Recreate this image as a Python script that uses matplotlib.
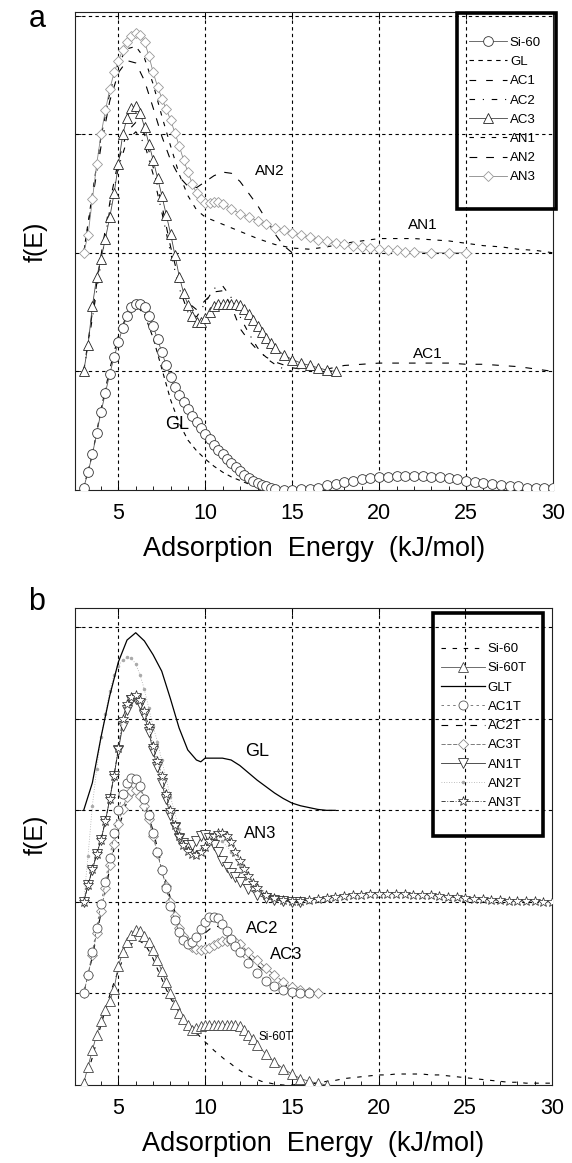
import matplotlib
matplotlib.use("Agg")
import matplotlib.pyplot as plt
from matplotlib.ticker import MultipleLocator
from matplotlib.patches import Rectangle

plt.rcParams['font.family'] = ['Liberation Sans', 'DejaVu Sans']

# ---------------- Panel a data ----------------
si60_x = [3.0, 3.25, 3.5, 3.75, 4.0, 4.25, 4.5, 4.75, 5.0, 5.25, 5.5, 5.75, 6.0, 6.25, 6.5, 6.75,
          7.0, 7.25, 7.5, 7.75, 8.0, 8.25, 8.5, 8.75, 9.0, 9.25, 9.5, 9.75, 10.0, 10.25, 10.5, 10.75,
          11.0, 11.25, 11.5, 11.75, 12.0, 12.25, 12.5, 12.75, 13.0, 13.25, 13.5, 13.75, 14.0, 14.5,
          15.0, 15.5, 16.0, 16.5, 17.0, 17.5, 18.0, 18.5, 19.0, 19.5, 20.0, 20.5, 21.0, 21.5, 22.0,
          22.5, 23.0, 23.5, 24.0, 24.5, 25.0, 25.5, 26.0, 26.5, 27.0, 27.5, 28.0, 28.5, 29.0, 29.5, 30.0]
si60_y = [0.02, 0.15, 0.30, 0.48, 0.66, 0.82, 0.98, 1.12, 1.25, 1.37, 1.47, 1.54, 1.57, 1.57, 1.54, 1.47,
          1.38, 1.27, 1.16, 1.05, 0.95, 0.87, 0.80, 0.74, 0.68, 0.62, 0.57, 0.52, 0.47, 0.43, 0.38, 0.34,
          0.30, 0.26, 0.23, 0.19, 0.16, 0.13, 0.10, 0.08, 0.06, 0.04, 0.03, 0.02, 0.01, 0.00,
          0.00, 0.01, 0.01, 0.02, 0.04, 0.05, 0.07, 0.08, 0.09, 0.10, 0.11, 0.11, 0.12, 0.12, 0.12,
          0.12, 0.11, 0.11, 0.10, 0.09, 0.08, 0.07, 0.06, 0.05, 0.04, 0.03, 0.03, 0.02, 0.02, 0.02, 0.02]

gl_x = [3.0, 3.5, 4.0, 4.5, 5.0, 5.5, 6.0, 6.5, 7.0, 7.5, 8.0, 8.5, 9.0, 9.5, 10.0, 10.5, 11.0,
        11.5, 12.0, 12.5, 13.0, 13.5, 14.0]
gl_y = [0.02, 0.30, 0.68, 1.02, 1.30, 1.48, 1.56, 1.48, 1.28, 1.02, 0.76, 0.56, 0.42, 0.33, 0.26,
        0.20, 0.15, 0.11, 0.08, 0.05, 0.03, 0.01, 0.00]

ac1_x = [3.0, 3.5, 4.0, 4.5, 5.0, 5.5, 6.0, 6.5, 7.0, 7.5, 8.0, 8.5, 9.0, 9.5, 10.0, 10.5, 11.0,
         11.5, 12.0, 12.5, 13.0, 13.5, 14.0, 15.0, 16.0, 17.0, 18.0, 19.0, 20.0, 21.0, 22.0, 23.0,
         24.0, 25.0, 26.0, 27.0, 28.0, 29.0, 30.0]
ac1_y = [1.00, 1.50, 1.98, 2.42, 2.78, 3.02, 3.10, 3.00, 2.72, 2.40, 2.05, 1.76, 1.58, 1.52, 1.60,
         1.67, 1.68, 1.55, 1.36, 1.26, 1.18, 1.12, 1.08, 1.03, 1.01, 1.02, 1.05, 1.06, 1.07, 1.07, 1.07,
         1.07, 1.07, 1.06, 1.06, 1.05, 1.04, 1.02, 1.00]

ac2_x = [3.0, 3.5, 4.0, 4.5, 5.0, 5.5, 6.0, 6.5, 7.0, 7.5, 8.0, 8.5, 9.0, 9.5, 10.0, 10.5, 11.0,
         11.5, 12.0, 12.5, 13.0, 13.5, 14.0, 14.5, 15.0]
ac2_y = [1.00, 1.45, 1.92, 2.36, 2.72, 2.95, 3.02, 2.92, 2.66, 2.34, 2.00, 1.70, 1.50, 1.46, 1.58,
         1.70, 1.72, 1.62, 1.46, 1.32, 1.20, 1.11, 1.06, 1.02, 1.00]

ac3_x = [3.0, 3.25, 3.5, 3.75, 4.0, 4.25, 4.5, 4.75, 5.0, 5.25, 5.5, 5.75, 6.0, 6.25, 6.5, 6.75,
         7.0, 7.25, 7.5, 7.75, 8.0, 8.25, 8.5, 8.75, 9.0, 9.25, 9.5, 9.75, 10.0, 10.25, 10.5, 10.75,
         11.0, 11.25, 11.5, 11.75, 12.0, 12.25, 12.5, 12.75, 13.0, 13.25, 13.5, 13.75, 14.0, 14.5,
         15.0, 15.5, 16.0, 16.5, 17.0, 17.5]
ac3_y = [1.00, 1.22, 1.55, 1.80, 1.95, 2.12, 2.30, 2.50, 2.75, 3.00, 3.14, 3.22, 3.24, 3.18, 3.06, 2.92,
         2.78, 2.63, 2.48, 2.32, 2.16, 1.98, 1.80, 1.66, 1.56, 1.47, 1.42, 1.42, 1.45, 1.50, 1.55, 1.57,
         1.57, 1.57, 1.57, 1.57, 1.56, 1.53, 1.48, 1.43, 1.38, 1.33, 1.28, 1.24, 1.20, 1.14,
         1.10, 1.07, 1.05, 1.03, 1.01, 1.00]

an1_x = [3.0, 3.5, 4.0, 4.5, 5.0, 5.5, 6.0, 6.5, 7.0, 7.5, 8.0, 8.5, 9.0, 9.5, 10.0, 10.5, 11.0,
         11.5, 12.0, 13.0, 14.0, 15.0, 16.0, 17.0, 18.0, 19.0, 20.0, 21.0, 22.0, 23.0, 24.0, 25.0,
         26.0, 27.0, 28.0, 29.0, 30.0]
an1_y = [2.00, 2.50, 2.98, 3.35, 3.60, 3.72, 3.74, 3.64, 3.42, 3.15, 2.90, 2.66, 2.48, 2.36, 2.30,
         2.27, 2.24, 2.21, 2.18, 2.12, 2.07, 2.04, 2.03, 2.05, 2.08, 2.10, 2.12, 2.12, 2.12, 2.11, 2.10,
         2.08, 2.06, 2.05, 2.03, 2.02, 2.00]

an2_x = [3.0, 3.5, 4.0, 4.5, 5.0, 5.5, 6.0, 6.5, 7.0, 7.5, 8.0, 8.5, 9.0, 9.5, 10.0, 10.5, 11.0,
         11.5, 12.0, 12.5, 13.0, 13.5, 14.0, 14.5, 15.0]
an2_y = [2.00, 2.45, 2.90, 3.28, 3.52, 3.62, 3.60, 3.45, 3.22, 2.98, 2.78, 2.64, 2.56, 2.55, 2.60,
         2.65, 2.68, 2.67, 2.60, 2.50, 2.40, 2.28, 2.16, 2.06, 2.00]

an3_x = [3.0, 3.25, 3.5, 3.75, 4.0, 4.25, 4.5, 4.75, 5.0, 5.25, 5.5, 5.75, 6.0, 6.25, 6.5, 6.75,
         7.0, 7.25, 7.5, 7.75, 8.0, 8.25, 8.5, 8.75, 9.0, 9.25, 9.5, 9.75, 10.0, 10.25, 10.5, 10.75,
         11.0, 11.5, 12.0, 12.5, 13.0, 13.5, 14.0, 14.5, 15.0, 15.5, 16.0, 16.5, 17.0, 17.5, 18.0,
         18.5, 19.0, 19.5, 20.0, 20.5, 21.0, 21.5, 22.0, 23.0, 24.0, 25.0]
an3_y = [2.00, 2.15, 2.45, 2.75, 3.00, 3.20, 3.38, 3.52, 3.62, 3.71, 3.78, 3.83, 3.85, 3.84, 3.78, 3.66,
         3.52, 3.40, 3.30, 3.21, 3.12, 3.01, 2.90, 2.78, 2.68, 2.58, 2.50, 2.45, 2.42, 2.42, 2.43, 2.43,
         2.41, 2.37, 2.33, 2.30, 2.27, 2.24, 2.21, 2.19, 2.17, 2.15, 2.13, 2.11, 2.10, 2.08, 2.07,
         2.06, 2.05, 2.04, 2.03, 2.02, 2.02, 2.01, 2.01, 2.00, 2.00, 2.00]

# ---------------- Panel b data ----------------
glt_x = [3.0, 3.5, 4.0, 4.5, 5.0, 5.5, 6.0, 6.5, 7.0, 7.5, 8.0, 8.5, 9.0, 9.5, 9.75, 10.0, 10.5,
         11.0, 11.5, 12.0, 12.5, 13.0, 13.5, 14.0, 14.5, 15.0, 15.5, 16.0, 16.5, 17.0, 17.5]
glt_y = [3.00, 3.30, 3.80, 4.25, 4.62, 4.86, 4.94, 4.85, 4.70, 4.52, 4.22, 3.90, 3.66, 3.55, 3.53,
         3.57, 3.57, 3.57, 3.55, 3.49, 3.41, 3.33, 3.26, 3.19, 3.13, 3.08, 3.05, 3.03, 3.01, 3.00, 3.00]

si60t_x = [3.0, 3.25, 3.5, 3.75, 4.0, 4.25, 4.5, 4.75, 5.0, 5.25, 5.5, 5.75, 6.0, 6.25, 6.5, 6.75,
           7.0, 7.25, 7.5, 7.75, 8.0, 8.25, 8.5, 8.75, 9.0, 9.25, 9.5, 9.75, 10.0, 10.25, 10.5, 10.75,
           11.0, 11.25, 11.5, 11.75, 12.0, 12.25, 12.5, 12.75, 13.0, 13.5, 14.0, 14.5, 15.0, 15.5,
           16.0, 16.5, 17.0]
si60t_y = [0.02, 0.20, 0.38, 0.55, 0.70, 0.82, 0.92, 1.05, 1.30, 1.45, 1.56, 1.64, 1.69, 1.68, 1.63, 1.56,
           1.47, 1.36, 1.25, 1.12, 1.00, 0.89, 0.79, 0.72, 0.65, 0.60, 0.62, 0.64, 0.65, 0.66, 0.66, 0.66,
           0.66, 0.66, 0.66, 0.65, 0.64, 0.60, 0.55, 0.50, 0.44, 0.34, 0.25, 0.18, 0.12, 0.07,
           0.04, 0.02, 0.00]

ac1t_x = [3.0, 3.25, 3.5, 3.75, 4.0, 4.25, 4.5, 4.75, 5.0, 5.25, 5.5, 5.75, 6.0, 6.25, 6.5, 6.75,
          7.0, 7.25, 7.5, 7.75, 8.0, 8.25, 8.5, 8.75, 9.0, 9.25, 9.5, 9.75, 10.0, 10.25, 10.5, 10.75,
          11.0, 11.25, 11.5, 11.75, 12.0, 12.5, 13.0, 13.5, 14.0, 14.5, 15.0, 15.5, 16.0]
ac1t_y = [1.00, 1.20, 1.45, 1.72, 1.98, 2.22, 2.48, 2.75, 3.00, 3.18, 3.30, 3.35, 3.34, 3.27, 3.12, 2.95,
          2.75, 2.55, 2.35, 2.15, 1.96, 1.80, 1.67, 1.58, 1.54, 1.56, 1.62, 1.70, 1.78, 1.83, 1.84, 1.82,
          1.76, 1.68, 1.60, 1.52, 1.45, 1.33, 1.22, 1.14, 1.08, 1.04, 1.02, 1.01, 1.00]

ac2t_x = [3.0, 3.5, 4.0, 4.5, 5.0, 5.5, 6.0, 6.5, 7.0, 7.5, 8.0, 8.5, 9.0, 9.5, 10.0, 10.5, 11.0,
          11.5, 12.0, 12.5, 13.0, 13.5, 14.0, 14.5, 15.0, 15.5, 16.0, 16.5]
ac2t_y = [1.00, 1.40, 1.88, 2.36, 2.80, 3.10, 3.20, 3.08, 2.78, 2.40, 2.04, 1.76, 1.58, 1.56, 1.66,
          1.74, 1.72, 1.62, 1.50, 1.40, 1.31, 1.23, 1.16, 1.10, 1.06, 1.03, 1.01, 1.00]

ac3t_x = [3.0, 3.25, 3.5, 3.75, 4.0, 4.25, 4.5, 4.75, 5.0, 5.25, 5.5, 5.75, 6.0, 6.25, 6.5, 6.75,
          7.0, 7.25, 7.5, 7.75, 8.0, 8.25, 8.5, 8.75, 9.0, 9.25, 9.5, 9.75, 10.0, 10.25, 10.5, 10.75,
          11.0, 11.25, 11.5, 11.75, 12.0, 12.5, 13.0, 13.5, 14.0, 14.5, 15.0, 15.5, 16.0, 16.5]
ac3t_y = [1.00, 1.20, 1.42, 1.66, 1.90, 2.15, 2.40, 2.63, 2.85, 3.02, 3.15, 3.21, 3.22, 3.16, 3.05, 2.90,
          2.72, 2.53, 2.35, 2.17, 2.00, 1.85, 1.72, 1.63, 1.56, 1.51, 1.48, 1.47, 1.48, 1.50, 1.53, 1.55,
          1.57, 1.57, 1.57, 1.56, 1.54, 1.45, 1.37, 1.28, 1.20, 1.13, 1.07, 1.04, 1.02, 1.00]

an1t_x = [3.0, 3.25, 3.5, 3.75, 4.0, 4.25, 4.5, 4.75, 5.0, 5.25, 5.5, 5.75, 6.0, 6.25, 6.5, 6.75,
          7.0, 7.25, 7.5, 7.75, 8.0, 8.25, 8.5, 8.75, 9.0, 9.25, 9.5, 9.75, 10.0, 10.25, 10.5, 10.75,
          11.0, 11.25, 11.5, 11.75, 12.0, 12.5, 13.0, 13.5, 14.0, 14.5, 15.0, 15.5]
an1t_y = [2.00, 2.18, 2.35, 2.52, 2.68, 2.88, 3.12, 3.38, 3.66, 3.92, 4.10, 4.20, 4.22, 4.16, 4.04, 3.86,
          3.65, 3.47, 3.30, 3.12, 2.95, 2.82, 2.70, 2.64, 2.62, 2.62, 2.67, 2.72, 2.73, 2.70, 2.62, 2.54,
          2.45, 2.38, 2.32, 2.27, 2.22, 2.14, 2.08, 2.04, 2.02, 2.01, 2.00, 2.00]

an2t_x = [3.0, 3.25, 3.5, 3.75, 4.0, 4.25, 4.5, 4.75, 5.0, 5.25, 5.5, 5.75, 6.0, 6.25, 6.5, 6.75,
          7.0, 7.25, 7.5, 8.0, 8.5, 9.0, 9.5, 10.0, 10.5, 11.0, 11.5, 12.0, 12.5, 13.0, 13.5, 14.0,
          15.0, 16.0]
an2t_y = [2.00, 2.50, 3.05, 3.45, 3.80, 4.05, 4.30, 4.48, 4.58, 4.64, 4.67, 4.66, 4.60, 4.48, 4.32, 4.12,
          3.92, 3.75, 3.55, 3.15, 2.80, 2.60, 2.55, 2.62, 2.68, 2.66, 2.55, 2.40, 2.28, 2.18, 2.10, 2.05,
          2.02, 2.00]

an3t_x = [3.0, 3.25, 3.5, 3.75, 4.0, 4.25, 4.5, 4.75, 5.0, 5.25, 5.5, 5.75, 6.0, 6.25, 6.5, 6.75,
          7.0, 7.25, 7.5, 7.75, 8.0, 8.25, 8.5, 8.75, 9.0, 9.25, 9.5, 9.75, 10.0, 10.25, 10.5, 10.75,
          11.0, 11.25, 11.5, 11.75, 12.0, 12.25, 12.5, 12.75, 13.0, 13.5, 14.0, 14.5, 15.0, 15.5,
          16.0, 16.5, 17.0, 17.5, 18.0, 18.5, 19.0, 19.5, 20.0, 20.5, 21.0, 21.5, 22.0, 22.5, 23.0,
          23.5, 24.0, 24.5, 25.0, 25.5, 26.0, 26.5, 27.0, 27.5, 28.0, 28.5, 29.0, 29.5, 30.0]
an3t_y = [2.00, 2.18, 2.36, 2.52, 2.68, 2.88, 3.12, 3.38, 3.68, 4.00, 4.16, 4.24, 4.26, 4.20, 4.08, 3.92,
          3.70, 3.54, 3.38, 3.18, 3.00, 2.84, 2.72, 2.62, 2.56, 2.52, 2.51, 2.54, 2.60, 2.67, 2.72, 2.75,
          2.75, 2.72, 2.65, 2.55, 2.45, 2.36, 2.28, 2.21, 2.15, 2.08, 2.04, 2.02, 2.01, 2.01,
          2.02, 2.03, 2.04, 2.05, 2.06, 2.07, 2.08, 2.09, 2.09, 2.09, 2.09, 2.09, 2.08, 2.08, 2.07,
          2.06, 2.05, 2.05, 2.04, 2.03, 2.03, 2.02, 2.02, 2.01, 2.01, 2.01, 2.01, 2.00, 2.00]

x_ticks = [5, 10, 15, 20, 25, 30]
x_label = "Adsorption  Energy  (kJ/mol)"
y_label = "f(E)"

# ---------------- Figure ----------------
W, H = 572, 1163
fig = plt.figure(figsize=(W / 100, H / 100), dpi=100)


def px_axes(left, top, right, bottom):
    return fig.add_axes([left / W, 1 - bottom / H, (right - left) / W, (bottom - top) / H])


def style_axes(ax, ymax, ygrid):
    ax.set_xlim(2.5, 30)
    ax.set_ylim(0, ymax)
    ax.set_xticks(x_ticks)
    ax.xaxis.set_minor_locator(MultipleLocator(1))
    ax.set_yticks(ygrid)
    ax.set_yticklabels([])
    ax.tick_params(axis='x', which='major', direction='in', length=5, width=0.7,
                   labelsize=15.5, pad=9, top=True)
    ax.tick_params(axis='x', which='minor', direction='in', length=3, width=0.6)
    ax.tick_params(axis='y', which='major', direction='in', length=4, width=0.6)
    for s in ax.spines.values():
        s.set_linewidth(0.8)
        s.set_color('#222222')
    for xv in x_ticks[:-1]:
        ax.axvline(xv, color='black', lw=0.8, ls=(0, (3, 3)), zorder=0.5)
    for yv in ygrid:
        ax.axhline(yv, color='black', lw=0.8, ls=(0, (3, 3)), zorder=0.5)
    ax.set_xlabel(x_label, fontsize=19.5, labelpad=9)


def boxed_legend(ax, box, center, handlelength):
    l, t, r, b = box
    fig.patches.append(Rectangle((l / W, 1 - b / H), (r - l) / W, (b - t) / H,
                                 transform=fig.transFigure, fill=False, edgecolor='black',
                                 linewidth=2.6, zorder=10))
    leg = ax.legend(loc='center', bbox_to_anchor=(center[0] / W, 1 - center[1] / H),
                    bbox_transform=fig.transFigure, fontsize=9.5, frameon=False,
                    borderpad=0, labelspacing=0.53, handlelength=handlelength,
                    handletextpad=0.2, numpoints=1)
    return leg


# ---- panel a ----
axa = px_axes(75, 12, 553, 490)
style_axes(axa, 4.03, [1, 2, 3, 4])

axa.plot(si60_x, si60_y, color='#555555', marker='o', ms=7, mec='#333333', mew=0.6,
         mfc='white', lw=0.6, label='Si-60', zorder=3)
axa.plot(gl_x, gl_y, color='black', lw=0.8, ls=(0, (4, 4)), label='GL', zorder=2)
axa.plot(ac1_x, ac1_y, color='black', lw=0.8, ls=(0, (6, 9)), label='AC1', zorder=2)
axa.plot(ac2_x, ac2_y, color='black', lw=0.8, ls=(0, (5, 7, 1, 7)), label='AC2', zorder=2)
axa.plot(ac3_x, ac3_y, color='#444444', marker='^', ms=7, mec='#222222', mew=0.6,
         mfc='white', lw=0.6, label='AC3', zorder=3)
axa.plot(an1_x, an1_y, color='black', lw=0.8, ls=(0, (4, 6)), label='AN1', zorder=2)
axa.plot(an2_x, an2_y, color='black', lw=0.8, ls=(0, (7, 8)), label='AN2', zorder=2)
axa.plot(an3_x, an3_y, color='#888888', marker='D', ms=5, mec='#999999', mew=0.6,
         mfc='white', lw=0.6, label='AN3', zorder=2.5)

axa.text(13.7, 2.69, 'AN2', fontsize=11, ha='center', va='center')
axa.text(22.5, 2.23, 'AN1', fontsize=11, ha='center', va='center')
axa.text(22.8, 1.15, 'AC1', fontsize=11, ha='center', va='center')
axa.text(8.4, 0.55, 'GL', fontsize=13, ha='center', va='center')

boxed_legend(axa, (457, 13, 556, 209), (505, 110), 2.9)

# ---- panel b ----
axb = px_axes(75, 608, 552, 1085)
style_axes(axb, 5.21, [1, 2, 3, 4, 5])

axb.plot(si60_x, si60_y, color='black', lw=0.8, ls=(0, (4, 6)), label='Si-60', zorder=2)
axb.plot(si60t_x, si60t_y, color='#555555', marker='^', ms=7, mec='#444444', mew=0.6,
         mfc='white', lw=0.6, label='Si-60T', zorder=3)
axb.plot(glt_x, glt_y, color='black', lw=0.9, label='GLT', zorder=3)
axb.plot(ac1t_x, ac1t_y, color='#666666', ls=(0, (3, 4)), marker='o', ms=6.5, mec='#555555',
         mew=0.6, mfc='white', lw=0.6, label='AC1T', zorder=2.6)
axb.plot(ac2t_x, ac2t_y, color='black', lw=0.8, ls=(0, (6, 7)), label='AC2T', zorder=2)
axb.plot(ac3t_x, ac3t_y, color='#666666', ls=(0, (5, 2)), marker='D', ms=5.5, mec='#888888',
         mew=0.6, mfc='white', lw=0.6, label='AC3T', zorder=2.5)
axb.plot(an1t_x, an1t_y, color='#333333', marker='v', ms=6.5, mec='#333333', mew=0.6,
         mfc='white', lw=0.6, label='AN1T', zorder=2.7)
axb.plot(an2t_x, an2t_y, color='#aaaaaa', ls=(0, (1, 2)), marker='.', ms=3, mec='#aaaaaa',
         lw=0.6, label='AN2T', zorder=2.2)
axb.plot(an3t_x, an3t_y, color='#222222', ls=(0, (5, 2, 1, 2)), marker='*', ms=7,
         mec='#222222', mew=0.5, mfc='white', lw=0.6, label='AN3T', zorder=2.8)

axb.text(13.0, 3.64, 'GL', fontsize=13, ha='center', va='center')
axb.text(13.2, 2.75, 'AN3', fontsize=12, ha='center', va='center')
axb.text(13.3, 1.71, 'AC2', fontsize=12, ha='center', va='center')
axb.text(14.7, 1.42, 'AC3', fontsize=12, ha='center', va='center')
axb.text(14.1, 0.52, 'Si-60T', fontsize=8.5, ha='center', va='center')

boxed_legend(axb, (433, 613, 543, 836), (484, 726), 3.3)

# panel letters and y labels
fig.text(37 / W, 1 - 19 / H, 'a', fontsize=22, ha='center', va='center')
fig.text(37 / W, 1 - 602 / H, 'b', fontsize=22, ha='center', va='center')
fig.text(36 / W, 1 - 242 / H, y_label, fontsize=18, rotation=90, ha='center', va='center')
fig.text(36 / W, 1 - 835 / H, y_label, fontsize=18, rotation=90, ha='center', va='center')

fig.savefig('out.png', dpi=100)
